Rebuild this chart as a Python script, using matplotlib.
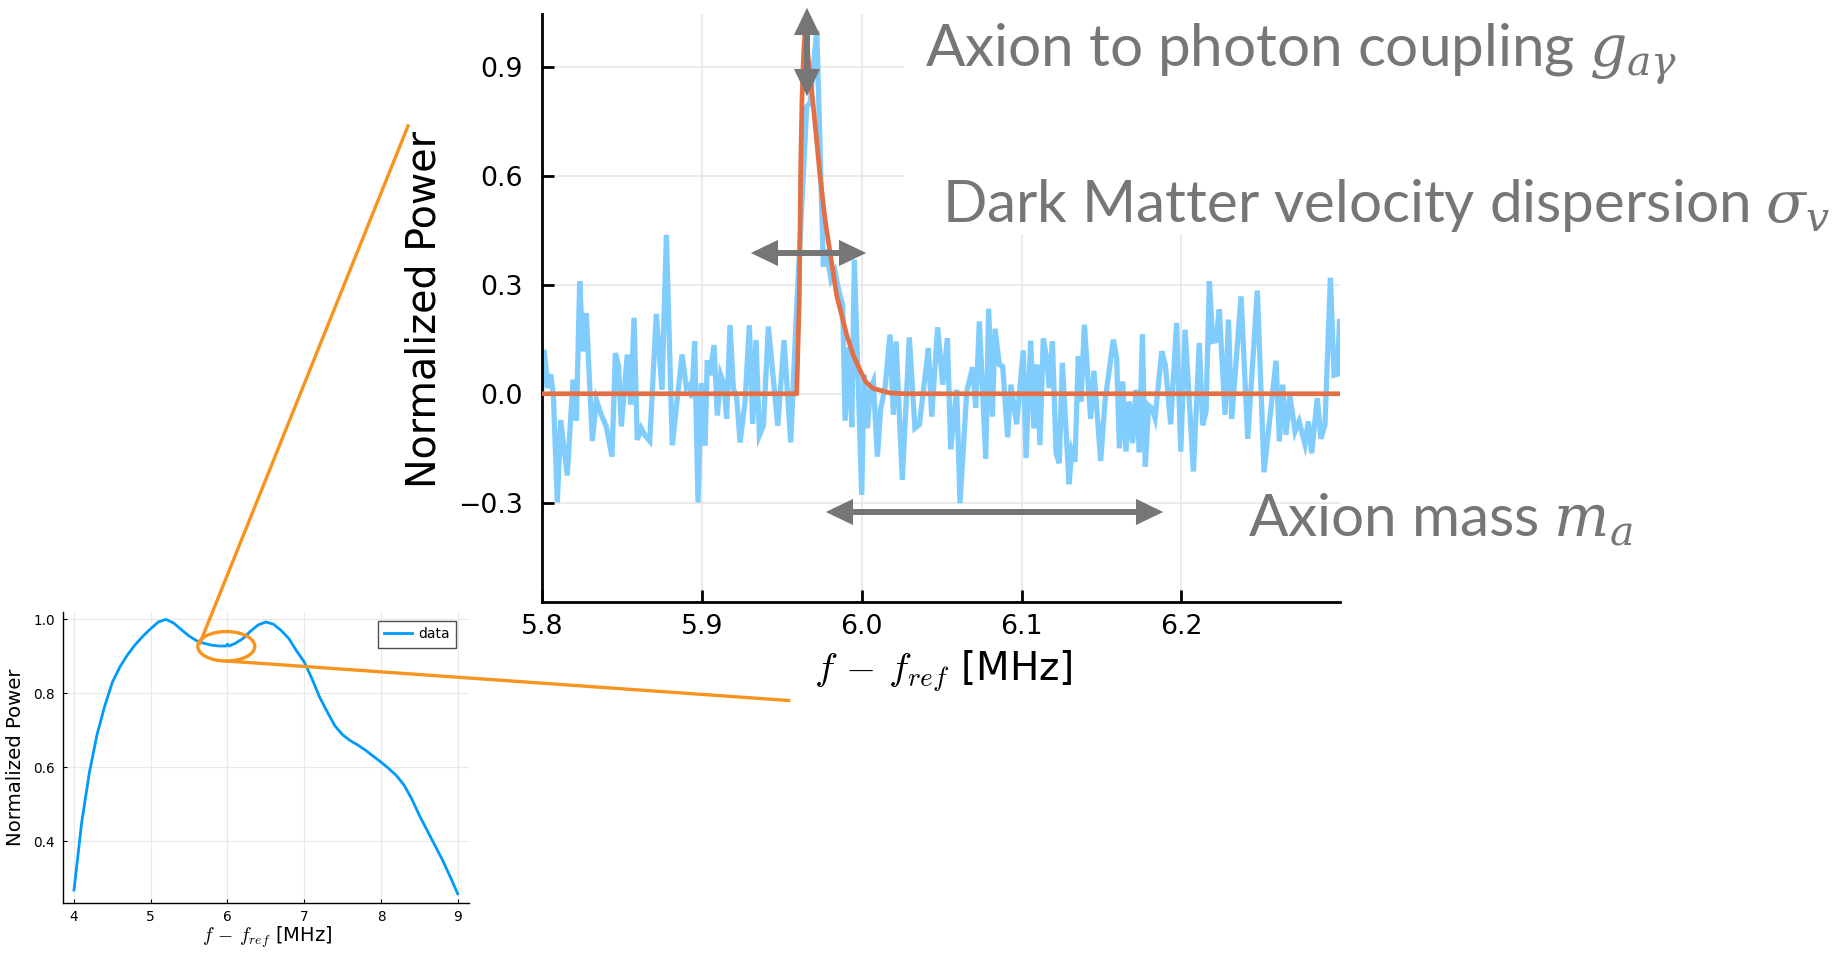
import matplotlib
matplotlib.use('Agg')
import matplotlib.pyplot as plt
from matplotlib.patches import FancyArrowPatch, Ellipse, Rectangle
from matplotlib.lines import Line2D

W, H, DPI = 1843, 956, 100

# ---------------- data ----------------
# overview: normalized power vs f - f_ref (MHz)
overview_f = [4.0, 4.1, 4.2, 4.3, 4.4, 4.5, 4.6, 4.7, 4.8, 4.9, 5.0, 5.1, 5.2, 5.3,
              5.4, 5.5, 5.6, 5.7, 5.8, 5.9, 5.98, 6.0, 6.02, 6.1, 6.2, 6.3, 6.4, 6.5,
              6.6, 6.7, 6.8, 6.9, 7.0, 7.1, 7.2, 7.3, 7.4, 7.5, 7.6, 7.7, 7.8, 7.9,
              8.0, 8.1, 8.2, 8.3, 8.4, 8.5, 8.6, 8.7, 8.8, 8.9, 9.0]
overview_p = [0.268, 0.45, 0.585, 0.688, 0.765, 0.83, 0.872, 0.905, 0.932, 0.955, 0.975,
              0.993, 1.0, 0.99, 0.972, 0.955, 0.942, 0.935, 0.93, 0.928, 0.928, 0.933,
              0.928, 0.935, 0.948, 0.968, 0.985, 0.993, 0.987, 0.97, 0.948, 0.915, 0.885,
              0.84, 0.79, 0.75, 0.712, 0.688, 0.672, 0.66, 0.646, 0.63, 0.614, 0.597,
              0.578, 0.552, 0.515, 0.47, 0.43, 0.39, 0.35, 0.305, 0.258]

# zoomed noisy data
zoom_f = [5.8000, 5.8013, 5.8038, 5.8054, 5.8071, 5.8096, 5.8117, 5.8158, 5.8194, 5.8215,
          5.8236, 5.8256, 5.8277, 5.8315, 5.8340, 5.8371, 5.8402, 5.8438, 5.8459, 5.8479,
          5.8496, 5.8534, 5.8555, 5.8576, 5.8596, 5.8621, 5.8642, 5.8674, 5.8715, 5.8751,
          5.8778, 5.8815, 5.8876, 5.8903, 5.8924, 5.8938, 5.8955, 5.8976, 5.8997,
          5.9020, 5.9034, 5.9051, 5.9076, 5.9097, 5.9118, 5.9139, 5.9155, 5.9176, 5.9197,
          5.9218, 5.9239, 5.9270, 5.9297, 5.9318, 5.9339, 5.9360, 5.9385, 5.9416, 5.9475,
          5.9514, 5.9556, 5.9589, 5.9656, 5.9677, 5.9719, 5.9760, 5.9777, 5.9808, 5.9833,
          5.9860, 5.9881, 5.9896, 5.9921, 5.9938, 5.9954, 6.0000, 6.0015,
          6.0035, 6.0056, 6.0073, 6.0098, 6.0119, 6.0146, 6.0177, 6.0198, 6.0215, 6.0254,
          6.0298, 6.0333, 6.0361, 6.0417, 6.0438, 6.0475, 6.0507, 6.0536, 6.0557, 6.0594,
          6.0615, 6.0657, 6.0694, 6.0713, 6.0736, 6.0776, 6.0794, 6.0817, 6.0834, 6.0861,
          6.0882, 6.0913, 6.0934, 6.0969, 6.1011, 6.1028,
          6.1057, 6.1078, 6.1095, 6.1115, 6.1136, 6.1157, 6.1174, 6.1193, 6.1216, 6.1236,
          6.1255, 6.1297, 6.1314, 6.1334, 6.1355, 6.1372, 6.1393, 6.1432, 6.1453, 6.1495,
          6.1522, 6.1574, 6.1595, 6.1612, 6.1633, 6.1653, 6.1674, 6.1695, 6.1716, 6.1737,
          6.1756, 6.1774, 6.1795, 6.1816, 6.1835, 6.1877, 6.1899, 6.1933, 6.1970, 6.1996,
          6.2023,
          6.2075, 6.2112, 6.2133, 6.2154, 6.2175, 6.2196, 6.2216, 6.2237, 6.2273, 6.2294,
          6.2315, 6.2373, 6.2415, 6.2475, 6.2517, 6.2592, 6.2613, 6.2634, 6.2654, 6.2679,
          6.2711, 6.2736, 6.2773, 6.2794, 6.2815, 6.2850, 6.2873, 6.2898, 6.2932, 6.2955,
          6.2976, 6.2989]
zoom_p = [0.016, 0.121, 0.016, 0.054, -0.003, -0.299, -0.072, -0.225, 0.039, -0.074,
          0.310, 0.117, 0.222, -0.130, -0.017, -0.058, -0.090, -0.173, 0.112, 0.075,
          -0.090, 0.108, -0.030, 0.209, -0.127, -0.095, -0.113, -0.130, 0.220, 0.011,
          0.437, -0.142, 0.108, 0.016, 0.025, -0.012, 0.144, -0.299, 0.029,
          -0.143, 0.092, 0.051, 0.134, -0.060, 0.051, 0.023, -0.069, 0.189, 0.014,
          -0.009, -0.134, -0.023, 0.189, -0.083, 0.148, -0.115, -0.088, 0.185, -0.088,
          0.148, -0.134, 0.199, 0.790, 0.800, 1.000, 0.350, 0.397, 0.314, 0.337,
          0.277, 0.245, -0.074, 0.129, -0.092, 0.369, -0.278, 0.052,
          -0.095, 0.016, 0.034, -0.173, -0.040, 0.016, 0.163, -0.058, 0.144, -0.237,
          0.155, -0.095, -0.085, 0.126, -0.063, 0.183, 0.025, 0.153, -0.153, 0.011,
          -0.301, 0.006, 0.073, -0.038, 0.199, -0.179, 0.234, -0.063, 0.179, 0.080,
          0.075, -0.120, 0.025, -0.084, 0.119, -0.177,
          0.146, -0.095, 0.080, -0.141, 0.152, 0.098, 0.016, 0.144, -0.164, -0.191,
          0.085, -0.249, -0.159, -0.187, 0.103, -0.021, 0.190, -0.069, 0.063, -0.185,
          -0.021, 0.149, 0.098, -0.150, 0.034, -0.159, -0.021, -0.136, 0.011, -0.161,
          0.164, -0.200, -0.032, -0.040, -0.067, 0.117, 0.080, -0.084, 0.195, -0.159,
          0.176,
          -0.214, 0.140, -0.087, -0.049, 0.310, 0.144, 0.146, 0.232, -0.058, 0.204,
          -0.069, 0.268, -0.124, 0.284, -0.216, 0.091, -0.131, 0.025, -0.113, -0.007,
          -0.104, -0.076, -0.139, -0.076, -0.164, -0.012, -0.124, -0.085, 0.319, 0.051,
          0.054, 0.199]

# signal line shape (fit)
fit_f = [5.8, 5.95934, 5.96096, 5.96184, 5.96265, 5.9636, 5.96453, 5.96641, 5.96954,
         5.97392, 5.97705, 5.98017, 5.98436, 5.99062, 5.99475, 5.99894, 6.00269, 6.00707,
         6.01771, 6.02709, 6.2989]
fit_p = [0.0, 0.0, 0.26, 0.625, 0.81, 0.93, 1.0, 0.93, 0.80, 0.60, 0.48, 0.39, 0.27,
         0.162, 0.106, 0.065, 0.032, 0.015, 0.002, 0.0, 0.0]

main_xticks = [5.8, 5.9, 6.0, 6.1, 6.2]
main_yticks = [-0.3, 0.0, 0.3, 0.6, 0.9]
small_xticks = [4, 5, 6, 7, 8, 9]
small_yticks = [0.4, 0.6, 0.8, 1.0]

label_coupling = r'Axion to photon coupling $g_{a\gamma}$'
label_dispersion = r'Dark Matter velocity dispersion $\sigma_v$'
label_mass = r'Axion mass $m_a$'
xlabel_text = r'$f\,-\,f_{ref}$ [MHz]'

# ---------------- styles ----------------
BLUE_LIGHT = '#80CDFD'
BLUE = '#009AFA'
RED = '#E26F46'
ORANGE = '#F7941D'
GRAY = '#767676'
GRID = '#e8e8e8'

fig = plt.figure(figsize=(W / DPI, H / DPI), dpi=DPI)


def frect(l, t, r, b):
    return [l / W, 1 - b / H, (r - l) / W, (b - t) / H]


# ---------------- main zoomed axes ----------------
ax = fig.add_axes(frect(542, 14, 1339.5, 602))
ax.plot(zoom_f, zoom_p, color=BLUE_LIGHT, lw=3.8, zorder=2, solid_joinstyle='miter')
ax.plot(fit_f, fit_p, color=RED, lw=3.4, zorder=3)
ax.set_xlim(5.8, 6.2989)
ax.set_ylim(-0.573, 1.045)
ax.set_xticks(main_xticks)
ax.set_xticklabels([f'{t:.1f}' for t in main_xticks])
ax.set_yticks(main_yticks)
ax.set_yticklabels([f'{t:.1f}'.replace('-', '\u2212') for t in main_yticks])
for s in ['top', 'right']:
    ax.spines[s].set_visible(False)
for s in ['left', 'bottom']:
    ax.spines[s].set_linewidth(2.0)
ax.tick_params(axis='both', direction='in', length=8.5, width=2.0, labelsize=19.3)
ax.tick_params(axis='y', pad=13.7)
ax.tick_params(axis='x', pad=9.0)
ax.grid(True, color=GRID, lw=1.2)
ax.set_axisbelow(True)

fig.text(424 / W, 1 - 309 / H, 'Normalized Power', rotation=90, fontsize=28.5,
         ha='center', va='center')
fig.text(943 / W, 1 - 680 / H, xlabel_text, fontsize=28,
         ha='center', va='baseline', math_fontfamily='cm')

# ---------------- small overview axes ----------------
ax2 = fig.add_axes(frect(63, 612, 469, 903))
ax2.plot(overview_f, overview_p, color=BLUE, lw=2.0, label='data')
ax2.set_xlim(3.857, 9.147)
ax2.set_ylim(0.233, 1.02)
ax2.set_xticks(small_xticks)
ax2.set_yticks(small_yticks)
ax2.set_yticklabels([f'{t:.1f}' for t in small_yticks])
for s in ['top', 'right']:
    ax2.spines[s].set_visible(False)
for s in ['left', 'bottom']:
    ax2.spines[s].set_linewidth(1.0)
ax2.tick_params(axis='both', direction='in', length=3, width=0.8, labelsize=9.8)
ax2.tick_params(axis='y', pad=5.8)
ax2.tick_params(axis='x', pad=5.0)
ax2.grid(True, color=GRID, lw=0.8)
ax2.set_axisbelow(True)
leg = ax2.legend(loc='upper right', bbox_to_anchor=(456 / W, 1 - 621 / H),
                 bbox_transform=fig.transFigure, fontsize=10, frameon=True,
                 fancybox=False, borderaxespad=0, borderpad=0.45,
                 handlelength=2.0, handletextpad=0.45)
leg.get_frame().set_edgecolor('#222222')
leg.get_frame().set_linewidth(1.0)

fig.text(16 / W, 1 - 757 / H, 'Normalized Power', rotation=90, fontsize=14.2,
         ha='center', va='center')
fig.text(267 / W, 1 - 942 / H, xlabel_text, fontsize=14,
         ha='center', va='baseline', math_fontfamily='cm')

# ---------------- overlay (figure pixels, top-left origin) ----------------
ov = fig.add_axes([0, 0, 1, 1], zorder=10)
ov.set_xlim(0, W)
ov.set_ylim(H, 0)
ov.axis('off')
ov.patch.set_visible(False)

# white text boxes covering grid lines
ov.add_patch(Rectangle((904, 0), W - 904, 180, facecolor='white', edgecolor='none', zorder=1))
ov.add_patch(Rectangle((930, 150), W - 930, 84, facecolor='white', edgecolor='none', zorder=1))

# orange zoom connectors
ov.add_line(Line2D([408, 200], [126, 643], color=ORANGE, lw=2.4, zorder=2))
ov.add_line(Line2D([226.7, 788.7], [661, 700.5], color=ORANGE, lw=2.4, zorder=2))
ov.add_patch(Ellipse((226.3, 646.3), 57, 29.5, facecolor='none', edgecolor=ORANGE,
                     lw=2.4, zorder=2))


# gray double arrows
def darrow(p1, p2):
    a = FancyArrowPatch(p1, p2, arrowstyle='<|-|>,head_length=12.5,head_width=6',
                        mutation_scale=1, color=GRAY, lw=4.3, shrinkA=2, shrinkB=2,
                        joinstyle='miter', capstyle='butt', zorder=4)
    ov.add_patch(a)


darrow((807, 5), (807, 99))
darrow((748, 253), (869, 253))
darrow((823, 512), (1166, 512))

tkw = dict(color=GRAY, fontsize=42, family='Lato', ha='left', va='baseline',
           math_fontfamily='dejavuserif', zorder=5)
ov.text(925, 67, label_coupling, **tkw)
ov.text(942, 222, label_dispersion, **tkw)
ov.text(1248, 537, label_mass, **tkw)

fig.savefig('out.png', dpi=DPI)
